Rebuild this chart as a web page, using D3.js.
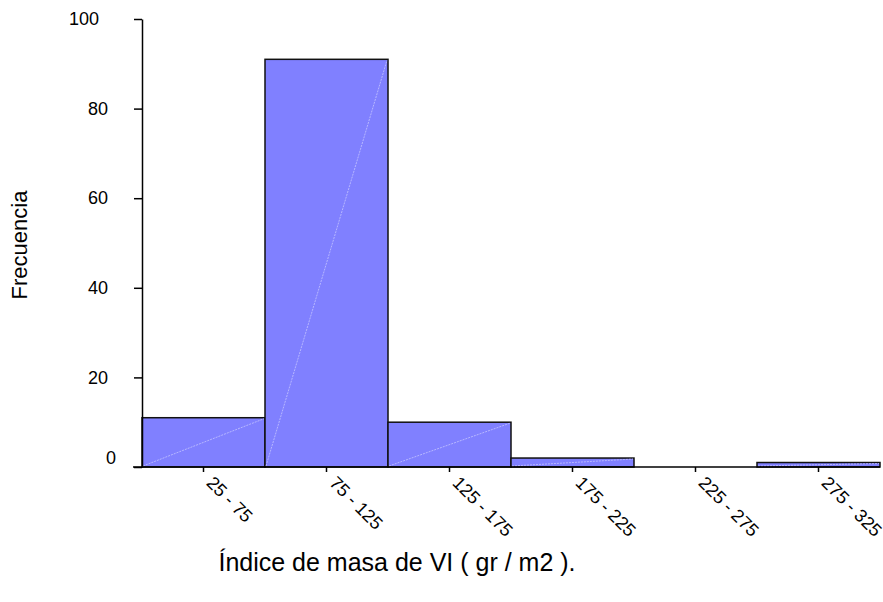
<!DOCTYPE html>
<html>
<head>
<meta charset="utf-8">
<script src="https://cdn.jsdelivr.net/npm/d3@7/dist/d3.min.js"></script>
<style>
  body { margin: 0; background: #fff; }
  svg { display: block; }
  text { font-family: "Liberation Sans", Arial, sans-serif; fill: #000; }
</style>
</head>
<body>
<svg id="chart" width="883" height="602"></svg>
<script>
// Histogram bins of left-ventricular mass index and their counts
const categories = ["25 - 75", "75 - 125", "125 - 175", "175 - 225", "225 - 275", "275 - 325"];
const frequencies = [11, 91, 10, 2, 0, 1];
const yTicks = [0, 20, 40, 60, 80, 100];
const xTitle = "Índice de masa de VI ( gr / m2 ).";
const yTitle = "Frecuencia";

const svg = d3.select("#chart");
const plotLeft = 142, plotRight = 880, plotTop = 19, plotBottom = 467;
const tickFont = 18;

const x = d3.scaleBand().domain(categories).range([plotLeft, plotRight]).padding(0);
const y = d3.scaleLinear().domain([0, 100]).range([plotBottom, plotTop]);

const data = categories.map((c, i) => ({ c, v: frequencies[i] }));

// Bars
const bars = svg.append("g");
bars.selectAll("rect")
  .data(data.filter(d => d.v > 0))
  .join("rect")
  .attr("x", d => x(d.c))
  .attr("y", d => y(d.v))
  .attr("width", x.bandwidth())
  .attr("height", d => y(0) - y(d.v))
  .attr("fill", "#8080ff")
  .attr("stroke", "#111")
  .attr("stroke-width", 1.5);

// Faint diagonal shading line across each bar
bars.selectAll("line")
  .data(data.filter(d => d.v > 0))
  .join("line")
  .attr("x1", d => x(d.c) + 1)
  .attr("y1", y(0) - 1)
  .attr("x2", d => x(d.c) + x.bandwidth() - 1)
  .attr("y2", d => y(d.v) + 1)
  .attr("stroke", "#c4c4ff")
  .attr("stroke-width", 0.8)
  .attr("stroke-dasharray", "2,1");

// Y axis
const yAxis = svg.append("g")
  .attr("transform", `translate(${plotLeft},0)`)
  .call(d3.axisLeft(y).tickValues(yTicks).tickSize(8).tickPadding(26).tickSizeOuter(0));
yAxis.select(".domain").attr("stroke", "#000").attr("stroke-width", 1.5);
yAxis.selectAll(".tick line").attr("stroke", "#000").attr("stroke-width", 1.5);
yAxis.selectAll(".tick text")
  .attr("font-size", tickFont)
  .attr("font-family", "'Liberation Sans', Arial, sans-serif")
  .attr("dx", d => d === 100 ? -9 : d === 0 ? 8 : 0)
  .attr("dy", d => d === 0 ? (0.32 * tickFont - 9) + "px" : (0.32 * tickFont) + "px");

// X axis
const xAxis = svg.append("g")
  .attr("transform", `translate(0,${plotBottom})`)
  .call(d3.axisBottom(x).tickSize(5).tickSizeOuter(0));
xAxis.select(".domain").remove();
xAxis.append("line")
  .attr("x1", plotLeft - 9).attr("x2", plotRight)
  .attr("stroke", "#000").attr("stroke-width", 1.5);
xAxis.selectAll(".tick line").attr("stroke", "#000").attr("stroke-width", 1.5);
xAxis.selectAll(".tick text")
  .attr("font-size", tickFont)
  .attr("font-family", "'Liberation Sans', Arial, sans-serif")
  .attr("text-anchor", "start")
  .attr("y", 0).attr("dy", 0)
  .attr("transform", "translate(2,17) rotate(45)");

// Axis titles
svg.append("text")
  .attr("x", 397).attr("y", 571)
  .attr("text-anchor", "middle")
  .attr("font-size", 25)
  .text(xTitle);

svg.append("text")
  .attr("transform", "translate(27,245) rotate(-90)")
  .attr("text-anchor", "middle")
  .attr("font-size", 22)
  .text(yTitle);
</script>
</body>
</html>
